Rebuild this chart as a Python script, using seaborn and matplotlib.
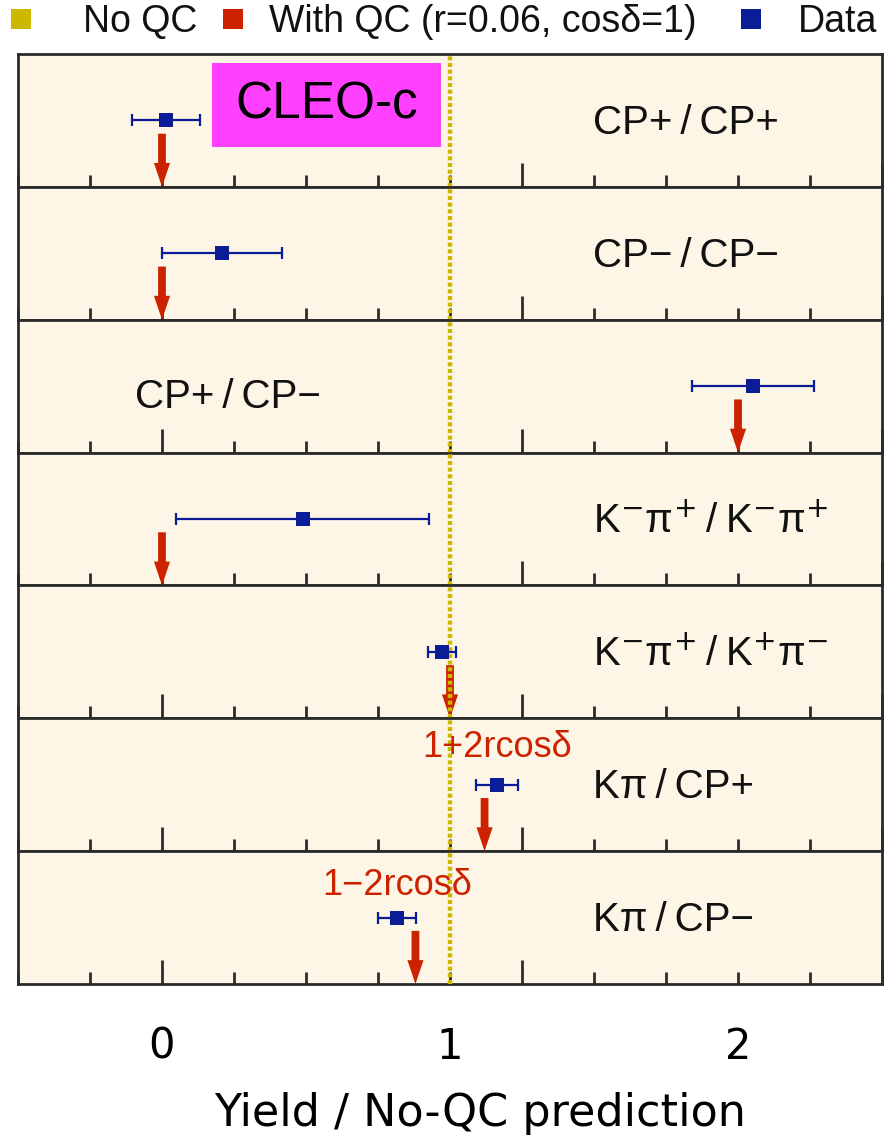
import matplotlib
matplotlib.use("Agg")
import numpy as np
import pandas as pd
import matplotlib.pyplot as plt
from matplotlib.lines import Line2D
from matplotlib.patches import Rectangle
from matplotlib.ticker import MultipleLocator, FixedLocator
import seaborn as sns

# Double-tagged D decay channels, top to bottom
channels = ["CP+\u2009/\u2009CP+", "CP\u2212\u2009/\u2009CP\u2212", "CP+\u2009/\u2009CP\u2212",
            "K$^{-}$\u03c0$^{+}$\u2009/\u2009K$^{-}$\u03c0$^{+}$",
            "K$^{-}$\u03c0$^{+}$\u2009/\u2009K$^{+}$\u03c0$^{-}$",
            "K\u03c0\u2009/\u2009CP+", "K\u03c0\u2009/\u2009CP\u2212"]
# Measured yield divided by the no-QC prediction, with uncertainty
data_val = [0.014, 0.209, 2.052, 0.488, 0.972, 1.164, 0.815]
data_err = [0.117, 0.209, 0.212, 0.440, 0.049, 0.073, 0.066]
# Quantum-correlated prediction (r = 0.06, cos delta = 1)
qc_pred = [0.0, 0.0, 2.0, 0.0, 1.0, 1.12, 0.88]
no_qc_pred = 1.0
formula_labels = ["", "", "", "", "", "1+2rcos\u03b4", "1\u22122rcos\u03b4"]
x_tick_vals = [0, 1, 2]
x_tick_labels = ["0", "1", "2"]
legend_labels = ["No QC", "With QC (r=0.06, cos\u03b4=1)", "Data"]

C_YELLOW = "#cdb800"
C_RED = "#cc2200"
C_BLUE = "#0b1c96"
C_BG = "#fdf5e6"
C_FRAME = "#2b2b2b"
C_TEXT = "#111111"

sns.set_theme(style="white")
plt.rcParams["font.family"] = ["Liberation Sans", "DejaVu Sans"]
plt.rcParams["text.color"] = C_TEXT

df = pd.DataFrame({"channel": channels, "value": data_val, "err": data_err,
                   "pred": qc_pred, "formula": formula_labels})

fig, axes = plt.subplots(len(channels), 1, figsize=(8.95, 11.35), dpi=100, sharex=True)
fig.subplots_adjust(left=0.0201, right=0.9855, top=0.9524, bottom=0.1330, hspace=0)

for i, (ax, row) in enumerate(zip(axes, df.itertuples())):
    ax.set_facecolor(C_BG)
    ax.set_xlim(-0.5, 2.5)
    ax.set_ylim(0, 1)
    ax.set_yticks([])
    ax.set_xlabel("")
    ax.set_ylabel("")
    for sp in ax.spines.values():
        sp.set_color(C_FRAME)
        sp.set_linewidth(2)
        sp.set_visible(True)
    ax.xaxis.set_major_locator(FixedLocator([0, 1.25, 2.5]))
    ax.xaxis.set_minor_locator(MultipleLocator(0.25))
    ax.tick_params(axis="x", which="major", direction="in", length=17, width=2,
                   color=C_FRAME, bottom=True, top=False, labelbottom=False)
    ax.tick_params(axis="x", which="minor", direction="in", length=8.5, width=2,
                   color=C_FRAME, bottom=True, top=False)

    # QC prediction arrow pointing down to the axis
    ax.arrow(row.pred, 0.40, 0, -0.40, width=0.027, head_width=0.056,
             head_length=0.18, length_includes_head=True, color=C_RED,
             lw=0, zorder=4)

    # No-QC expectation
    ax.axvline(no_qc_pred, color=C_YELLOW, lw=3.2, ls=(0, (0.9, 0.6)), zorder=6)

    # Measured point
    ax.errorbar(row.value, 0.5, xerr=row.err, fmt="none", ecolor=C_BLUE,
                elinewidth=1.6, capsize=4.3, capthick=1.6, zorder=7)
    sns.scatterplot(x=[row.value], y=[0.5], marker="s", s=110, color=C_BLUE,
                    linewidth=0, ax=ax, zorder=8, legend=False)

    # Channel label
    if i == 2:
        ax.text(0.136, 0.42, row.channel, transform=ax.transAxes, fontsize=29,
                color=C_TEXT, ha="left", va="center")
    else:
        ax.text(0.665, 0.48, row.channel, transform=ax.transAxes, fontsize=29,
                color=C_TEXT, ha="left", va="center")

    if row.formula:
        ax.text(row.value, 0.78 if i == 5 else 0.74, row.formula, fontsize=26,
                color=C_RED, ha="center", va="center", zorder=9)

# x tick labels beneath the stack
sec = axes[-1].secondary_xaxis("bottom")
sec.set_xticks(x_tick_vals, x_tick_labels)
sec.tick_params(length=0, pad=30, labelsize=30, labelcolor="black")
for lbl in sec.get_xticklabels():
    lbl.set_family("DejaVu Sans")
sec.spines["bottom"].set_visible(False)

fig.text(0.536, 0.019, "Yield / No-QC prediction", fontsize=32, family="DejaVu Sans",
         ha="center", va="center", color="black")

# CLEO-c tag
fig.patches.append(Rectangle((0.2369, 0.8705), 0.2559, 0.0740, transform=fig.transFigure,
                             facecolor="#ff40ff", edgecolor="none", zorder=10))
fig.text(0.3648, 0.9075, "CLEO-c", fontsize=37, ha="center", va="center",
         color="black", zorder=11)

# Legend across the top: one entry per column, spaced like fixed-width cells
legend_x = [0.0067, 0.2436, 0.8223]
legend_pad = [1.25, 0.55, 0.85]
for lbl, col, x0, pad in zip(legend_labels, (C_YELLOW, C_RED, C_BLUE), legend_x, legend_pad):
    h = Line2D([], [], ls="none", marker="s", markersize=15, color=col, markeredgewidth=0)
    fig.legend([h], [lbl], loc="center left", bbox_to_anchor=(x0, 0.9806),
               frameon=False, fontsize=27, handlelength=0.8, handletextpad=pad,
               borderpad=0.0, borderaxespad=0.0, labelcolor=C_TEXT)

fig.savefig("out.png", dpi=100, facecolor="white")
